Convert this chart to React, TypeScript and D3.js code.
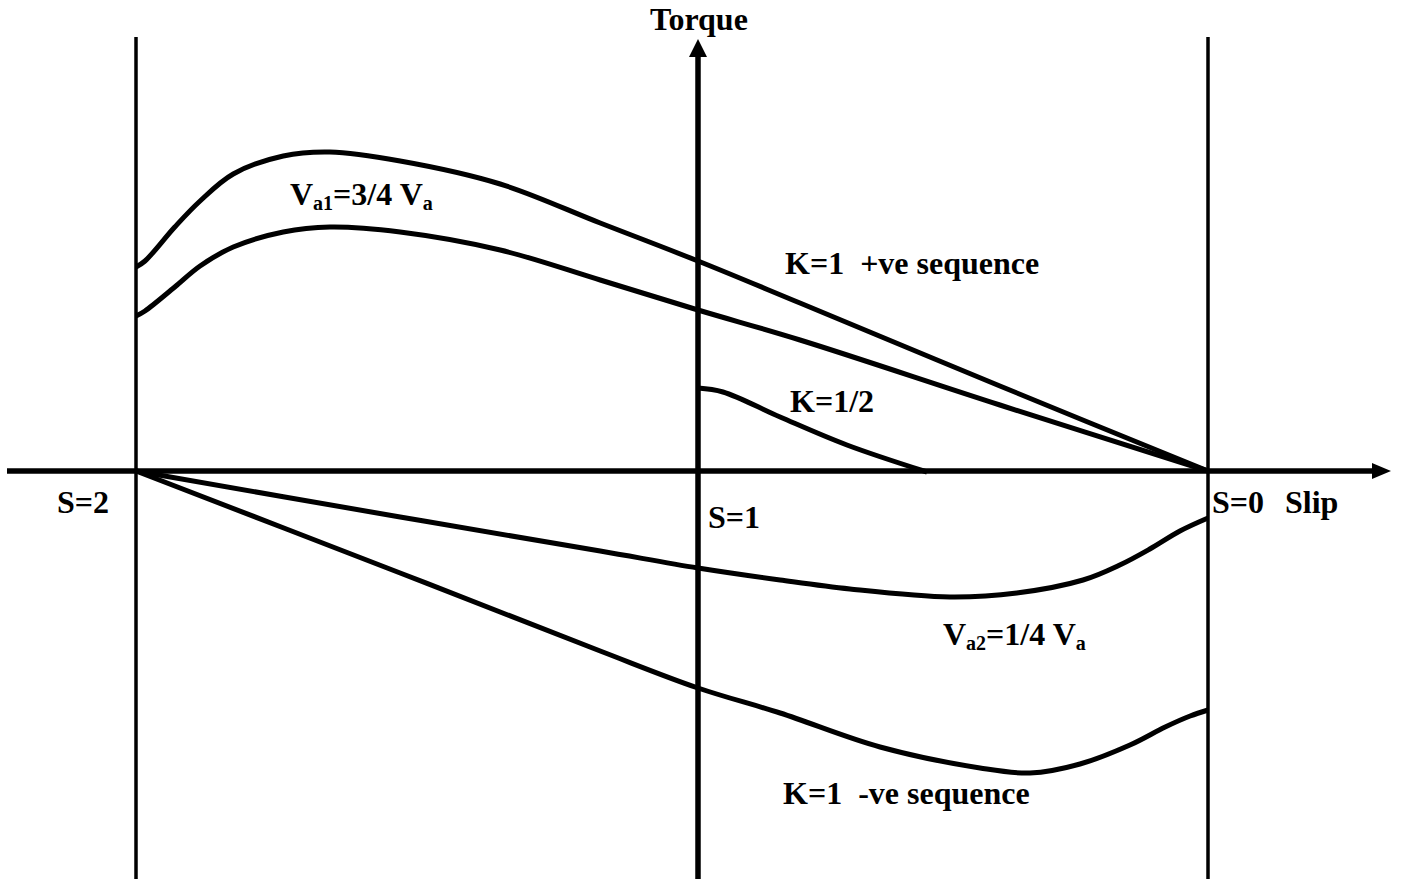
import React from "react";
import * as d3 from "d3";

// Slip (2 at left boundary, 1 at torque axis, 0 at right boundary) vs Torque (arbitrary units)
const posSeqK1: [number, number][] = [
  [2.0, 2.04], [1.984, 2.1], [1.931, 2.44], [1.886, 2.7], [1.827, 2.97], [1.738, 3.15],
  [1.655, 3.19], [1.53, 3.1], [1.352, 2.87], [1.174, 2.48], [1.0, 2.1],
  [0.8, 1.68], [0.408, 0.85], [0.0, 0.0],
];
const va1Curve: [number, number][] = [
  [2.0, 1.55], [1.984, 1.6], [1.931, 1.84], [1.886, 2.05], [1.827, 2.24], [1.738, 2.39],
  [1.655, 2.44], [1.53, 2.39], [1.352, 2.21], [1.174, 1.91], [1.0, 1.61], [0.8, 1.31],
  [0.408, 0.66], [0.0, 0.0],
];
const posSeqKHalf: [number, number][] = [
  [1.0, 0.83], [0.951, 0.79], [0.839, 0.54], [0.708, 0.26], [0.551, -0.01],
];
const va2Curve: [number, number][] = [
  [2.0, 0.0], [1.53, -0.46], [1.174, -0.8], [1.0, -0.97], [0.839, -1.09], [0.702, -1.18],
  [0.506, -1.26], [0.375, -1.22], [0.245, -1.09], [0.173, -0.94], [0.114, -0.78],
  [0.055, -0.6], [0.0, -0.47],
];
const negSeqK1: [number, number][] = [
  [2.0, 0.0], [1.53, -1.02], [1.174, -1.8], [1.0, -2.17], [0.839, -2.42], [0.643, -2.76],
  [0.447, -2.97], [0.349, -3.02], [0.251, -2.93], [0.153, -2.74], [0.084, -2.56],
  [0.035, -2.45], [0.0, -2.39],
];

const W = 1405;
const H = 879;
const FONT = "'Liberation Serif', 'Times New Roman', serif";
const FS = 32;
const SUB = 20;

export default function App() {
  const x = d3.scaleLinear().domain([2, 1, 0]).range([136, 698, 1208]);
  const y = d3.scaleLinear().domain([0, 1]).range([471, 371]);

  const line = d3
    .line<[number, number]>()
    .x((d) => x(d[0]))
    .y((d) => y(d[1]))
    .curve(d3.curveCatmullRom.alpha(0.5));

  const curves = [posSeqK1, va1Curve, posSeqKHalf, va2Curve, negSeqK1];

  const x0 = x(1);
  const y0 = y(0);

  const txt = {
    fontFamily: FONT,
    fontWeight: "bold" as const,
    fontSize: FS,
    fill: "#000",
  };

  return (
    <svg
      width={W}
      height={H}
      style={{ position: "absolute", left: 0, top: 0, background: "#fff" }}
    >
      {/* boundary lines at S=2 and S=0 */}
      <line x1={x(2)} x2={x(2)} y1={37} y2={879} stroke="#000" strokeWidth={3.5} />
      <line x1={x(0)} x2={x(0)} y1={37} y2={879} stroke="#000" strokeWidth={3.5} />

      {/* slip axis */}
      <line x1={7} x2={1375} y1={y0} y2={y0} stroke="#000" strokeWidth={5.5} />
      <path d={`M1391,${y0} L1372,${y0 - 8} L1372,${y0 + 8} Z`} fill="#000" />

      {/* torque axis */}
      <line x1={x0} x2={x0} y1={879} y2={52} stroke="#000" strokeWidth={5.5} />
      <path d={`M${x0},39 L${x0 - 9},57 L${x0 + 9},57 Z`} fill="#000" />

      {curves.map((c, i) => (
        <path
          key={i}
          d={line(c) || ""}
          fill="none"
          stroke="#000"
          strokeWidth={5}
          strokeLinejoin="round"
        />
      ))}

      <text x={650} y={30} {...txt}>Torque</text>
      <text x={57} y={513} {...txt}>S=2</text>
      <text x={708} y={528} {...txt}>S=1</text>
      <text x={1212} y={513} {...txt}>S=0</text>
      <text x={1285} y={513} {...txt}>Slip</text>
      <text x={785} y={274} {...txt} xmlSpace="preserve">K=1  +ve sequence</text>
      <text x={790} y={412} {...txt}>K=1/2</text>
      <text x={783} y={804} {...txt} xmlSpace="preserve">K=1  -ve sequence</text>

      <text x={290} y={205} {...txt}>
        V
        <tspan fontSize={SUB} dy={5}>a1</tspan>
        <tspan dy={-5}>=3/4 V</tspan>
        <tspan fontSize={SUB} dy={5}>a</tspan>
      </text>
      <text x={943} y={645} {...txt}>
        V
        <tspan fontSize={SUB} dy={5}>a2</tspan>
        <tspan dy={-5}>=1/4 V</tspan>
        <tspan fontSize={SUB} dy={5}>a</tspan>
      </text>
    </svg>
  );
}
